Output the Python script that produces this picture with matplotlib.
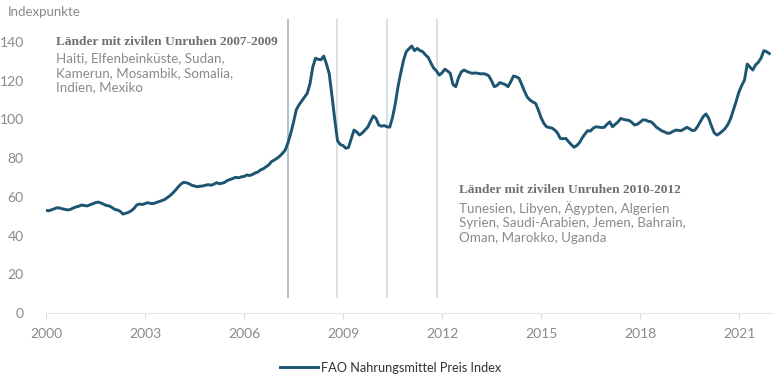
import numpy as np
import matplotlib.pyplot as plt

# FAO Nahrungsmittel Preis Index, monthly values (Jan..Dec)
years = list(range(2000, 2022))
fao_index = [
    [53.0, 52.8, 53.3, 53.8, 54.4, 54.2, 53.8, 53.5, 53.2, 53.6, 54.3, 54.8],        # 2000
    [55.2, 55.8, 55.5, 55.3, 55.9, 56.4, 57.0, 57.3, 56.8, 56.2, 55.5, 55.3],        # 2001
    [54.5, 53.5, 53.2, 52.5, 51.1, 51.5, 52.0, 52.8, 54.0, 55.8, 56.3, 56.0],        # 2002
    [56.5, 57.0, 56.6, 56.5, 57.0, 57.5, 58.0, 58.5, 59.5, 60.5, 61.8, 63.3],        # 2003
    [65.0, 66.5, 67.5, 67.3, 66.8, 66.0, 65.6, 65.2, 65.5, 65.6, 66.0, 66.3],        # 2004
    [66.0, 66.5, 67.3, 66.8, 67.0, 67.5, 68.5, 69.0, 69.5, 70.1, 69.8, 70.3],        # 2005
    [70.5, 71.3, 71.0, 71.5, 72.3, 72.8, 73.9, 74.5, 75.5, 76.5, 78.2, 79.0],        # 2006
    [79.9, 81.0, 82.5, 84.2, 88.0, 92.8, 98.5, 104.9, 107.5, 109.5, 111.5, 113.5],   # 2007
    [118.5, 127.0, 131.6, 131.0, 130.8, 132.7, 128.5, 123.5, 112.0, 100.0, 89.0, 87.0],  # 2008
    [86.5, 85.1, 85.5, 90.0, 94.5, 93.5, 91.9, 93.0, 94.5, 96.0, 99.0, 101.8],       # 2009
    [100.5, 97.1, 96.5, 96.8, 96.2, 96.0, 101.0, 108.0, 116.9, 124.0, 130.5, 135.0], # 2010
    [136.5, 137.9, 135.5, 136.7, 135.5, 135.0, 133.3, 132.0, 129.0, 126.4, 125.0, 122.9],  # 2011
    [124.0, 125.9, 125.0, 123.8, 118.0, 116.9, 121.5, 124.5, 125.5, 124.8, 124.2, 123.8],  # 2012
    [124.0, 123.8, 123.5, 123.6, 123.3, 122.5, 120.0, 116.9, 117.5, 119.0, 118.5, 118.0],  # 2013
    [116.9, 119.5, 122.4, 122.0, 121.2, 118.0, 114.5, 111.5, 110.0, 109.0, 108.3, 105.0],  # 2014
    [101.0, 98.0, 96.2, 95.8, 95.5, 94.5, 93.0, 90.2, 90.0, 90.2, 88.5, 87.0],       # 2015
    [85.6, 86.5, 88.0, 90.5, 92.5, 94.2, 94.0, 95.5, 96.2, 96.0, 95.8, 95.9],        # 2016
    [97.5, 98.7, 96.2, 97.5, 98.7, 100.5, 100.0, 99.7, 99.5, 98.5, 97.1, 97.5],      # 2017
    [98.5, 99.7, 99.7, 99.0, 98.8, 97.5, 95.9, 95.0, 94.0, 93.5, 92.8, 93.0],        # 2018
    [93.8, 94.5, 94.3, 94.2, 95.0, 95.9, 95.2, 94.2, 94.5, 96.5, 99.0, 101.5],       # 2019
    [102.8, 100.5, 96.5, 93.0, 91.9, 92.8, 94.0, 95.4, 97.5, 100.6, 105.0, 109.5],   # 2020
    [114.3, 117.5, 120.4, 128.6, 127.0, 125.5, 128.1, 129.5, 131.6, 135.5, 135.0, 134.0],  # 2021
]

# unrest markers (decimal years)
unrest_dates = [2007.33, 2008.82, 2010.33, 2011.85]
unrest_colors = ['#9cb9c9', '#d0dce4', '#d0dce4', '#d0dce4']

x_ticks = [2000, 2003, 2006, 2009, 2012, 2015, 2018, 2021]
y_ticks = [0, 20, 40, 60, 80, 100, 120, 140]

label_1_title = 'Länder mit zivilen Unruhen 2007-2009'
label_1_text = 'Haiti, Elfenbeinküste, Sudan,\nKamerun, Mosambik, Somalia,\nIndien, Mexiko'
label_2_title = 'Länder mit zivilen Unruhen 2010-2012'
label_2_text = 'Tunesien, Libyen, Ägypten, Algerien\nSyrien, Saudi-Arabien, Jemen, Bahrain,\nOman, Marokko, Uganda'

# flatten to one monthly series
t = []
v = []
for y, row in zip(years, fao_index):
    for m, val in enumerate(row):
        t.append(y + m / 12)
        v.append(val)

plt.rcParams['font.family'] = ['Lato', 'DejaVu Sans']

line_color = '#1d5571'
grey = '#8a8a8a'

fig = plt.figure(figsize=(7.81, 3.82), dpi=100)
ax = fig.add_axes([0.0589, 0.1806, 0.9296, 0.7704])

ax.vlines(unrest_dates, 8, 152, colors=unrest_colors, linewidth=1.2, zorder=1)
ax.plot(t, v, color=line_color, linewidth=2.1, zorder=3,
        label='FAO Nahrungsmittel Preis Index')

ax.set_xlim(2000, 2022.0)
ax.set_ylim(0, 152)
ax.set_xticks(x_ticks)
ax.set_yticks(y_ticks)

for side in ['top', 'right', 'left']:
    ax.spines[side].set_visible(False)
ax.spines['bottom'].set_color('#e6e6e6')
ax.tick_params(axis='x', colors='#dcdcdc', length=4, width=0.8, pad=7,
               labelcolor=grey, labelsize=10)
ax.tick_params(axis='y', length=0, pad=16, labelcolor=grey, labelsize=10)

fig.text(0.010, 0.968, 'Indexpunkte', color=grey, fontsize=9.5, va='center')

# annotations
ax.text(2000.3, 140, label_1_title, family='Liberation Serif', weight='bold',
        color='#6e6e6e', fontsize=9.6, va='center')
ax.text(2000.3, 134.5, label_1_text, color=grey, fontsize=9.6, va='top',
        linespacing=1.25)
ax.text(2012.5, 63.5, label_2_title, family='Liberation Serif', weight='bold',
        color='#6e6e6e', fontsize=9.6, va='center')
ax.text(2012.5, 58, label_2_text, color=grey, fontsize=9.6, va='top',
        linespacing=1.25)

leg = fig.legend(loc='center', bbox_to_anchor=(0.5, 0.037), frameon=False,
                 fontsize=9.2, handlelength=3.0, handletextpad=0.2)
for txt in leg.get_texts():
    txt.set_color('#333333')

fig.savefig('out.png', dpi=100)
